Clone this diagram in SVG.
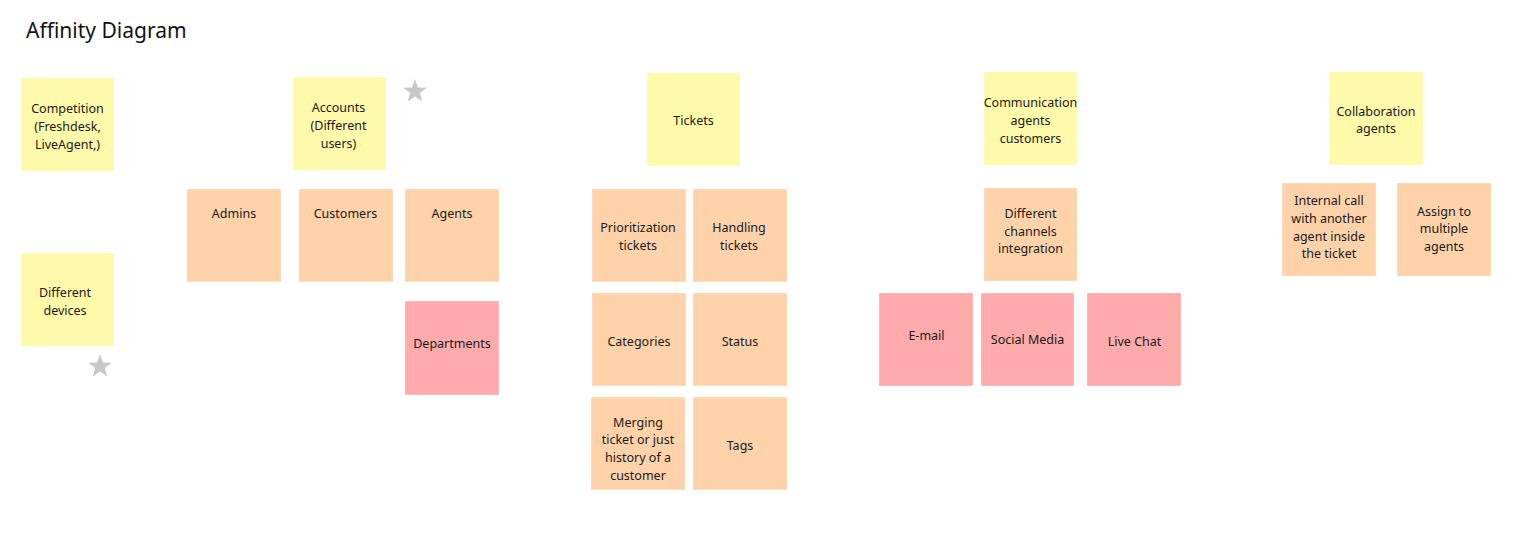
<svg xmlns="http://www.w3.org/2000/svg" xmlns:xlink="http://www.w3.org/1999/xlink" width="1518" height="555" viewBox="0 0 1518 555">
<style>
.y{fill:#fff9aa}
.o{fill:#ffd2a9}
.p{fill:#ffaaab}
rect{stroke:#ffffff;stroke-opacity:0.35;stroke-width:1}
.t{font-family:"Noto Sans","Open Sans",sans-serif;font-size:12.5px;fill:#1a1a1a;text-anchor:middle}
.title{font-family:"Noto Sans","Open Sans",sans-serif;font-size:21px;fill:#111}
.star{fill:#c8c8c8}
</style>
<defs>
<polygon id="star" class="star" points="0,-12.5 2.94,-4.05 11.89,-3.86 4.76,1.55 7.35,10.11 0,5 -7.35,10.11 -4.76,1.55 -11.89,-3.86 -2.94,-4.05"/>
</defs>
<rect width="1518" height="555" fill="#ffffff" stroke="none"/>
<text class="title" x="26" y="38">Affinity Diagram</text>
<use xlink:href="#star" x="415" y="91.5"/>
<use xlink:href="#star" x="100" y="366.5"/>
<g id="connectors"></g>

<g id="competition"><rect class="y" x="21" y="78" width="93" height="93"/>
<text class="t" x="67.5"><tspan x="67.5" y="113">Competition</tspan><tspan x="67.5" y="131">(Freshdesk,</tspan><tspan x="67.5" y="148.5">LiveAgent,)</tspan></text></g>
<g id="devices"><rect class="y" x="21" y="253" width="93" height="93"/>
<text class="t"><tspan x="65" y="296.5">Different</tspan><tspan x="65" y="314.5">devices</tspan></text></g>

<g id="accounts"><rect class="y" x="293" y="77" width="93" height="93"/>
<text class="t"><tspan x="338.5" y="112">Accounts</tspan><tspan x="338.5" y="130">(Different</tspan><tspan x="338.5" y="148">users)</tspan></text></g>
<g id="admins"><rect class="o" x="187" y="189" width="94" height="93"/>
<text class="t" x="234" y="217.5">Admins</text></g>
<g id="customers"><rect class="o" x="299" y="189" width="94" height="93"/>
<text class="t" x="345.5" y="217.5">Customers</text></g>
<g id="agents"><rect class="o" x="405" y="189" width="94" height="93"/>
<text class="t" x="452" y="217.5">Agents</text></g>
<g id="departments"><rect class="p" x="405" y="301" width="94" height="94"/>
<text class="t" x="452" y="348">Departments</text></g>

<g id="tickets"><rect class="y" x="647" y="73" width="93" height="93"/>
<text class="t" x="693.5" y="125">Tickets</text></g>
<g id="prioritization"><rect class="o" x="592" y="189" width="94" height="93"/>
<text class="t"><tspan x="638" y="232">Prioritization</tspan><tspan x="638" y="249.5">tickets</tspan></text></g>
<g id="handling"><rect class="o" x="693" y="189" width="94" height="93"/>
<text class="t"><tspan x="739" y="232">Handling</tspan><tspan x="739" y="249.5">tickets</tspan></text></g>
<g id="categories"><rect class="o" x="592" y="293" width="94" height="93"/>
<text class="t" x="639" y="345.5">Categories</text></g>
<g id="status"><rect class="o" x="693" y="293" width="94" height="93"/>
<text class="t" x="740" y="345.5">Status</text></g>
<g id="merging"><rect class="o" x="591" y="397" width="94" height="93"/>
<text class="t"><tspan x="638" y="426.5">Merging</tspan><tspan x="638" y="444">ticket or just</tspan><tspan x="638" y="462">history of a</tspan><tspan x="638" y="479.5">customer</tspan></text></g>
<g id="tags"><rect class="o" x="693" y="397" width="94" height="93"/>
<text class="t" x="740" y="449.5">Tags</text></g>

<g id="communication"><rect class="y" x="984" y="72" width="93" height="93"/>
<text class="t"><tspan x="1030.5" y="107">Communication</tspan><tspan x="1030.5" y="124.5">agents</tspan><tspan x="1030.5" y="142.5">customers</tspan></text></g>
<g id="channels"><rect class="o" x="984" y="188" width="93" height="93"/>
<text class="t"><tspan x="1030.5" y="217.5">Different</tspan><tspan x="1030.5" y="235.5">channels</tspan><tspan x="1030.5" y="253">integration</tspan></text></g>
<g id="email"><rect class="p" x="879" y="293" width="94" height="93"/>
<text class="t" x="926.5" y="339.5">E-mail</text></g>
<g id="social"><rect class="p" x="981" y="293" width="93" height="93"/>
<text class="t" x="1027.5" y="344">Social Media</text></g>
<g id="livechat"><rect class="p" x="1087" y="293" width="94" height="93"/>
<text class="t" x="1134.5" y="345.5">Live Chat</text></g>

<g id="collaboration"><rect class="y" x="1329" y="72" width="94" height="93"/>
<text class="t"><tspan x="1376" y="115.5">Collaboration</tspan><tspan x="1376" y="133">agents</tspan></text></g>
<g id="internal"><rect class="o" x="1282" y="183" width="94" height="93"/>
<text class="t"><tspan x="1329" y="204.5">Internal call</tspan><tspan x="1329" y="222.5">with another</tspan><tspan x="1329" y="240.5">agent inside</tspan><tspan x="1329" y="258">the ticket</tspan></text></g>
<g id="assign"><rect class="o" x="1397" y="183" width="94" height="93"/>
<text class="t"><tspan x="1444" y="215.5">Assign to</tspan><tspan x="1444" y="233">multiple</tspan><tspan x="1444" y="251">agents</tspan></text></g>
</svg>
